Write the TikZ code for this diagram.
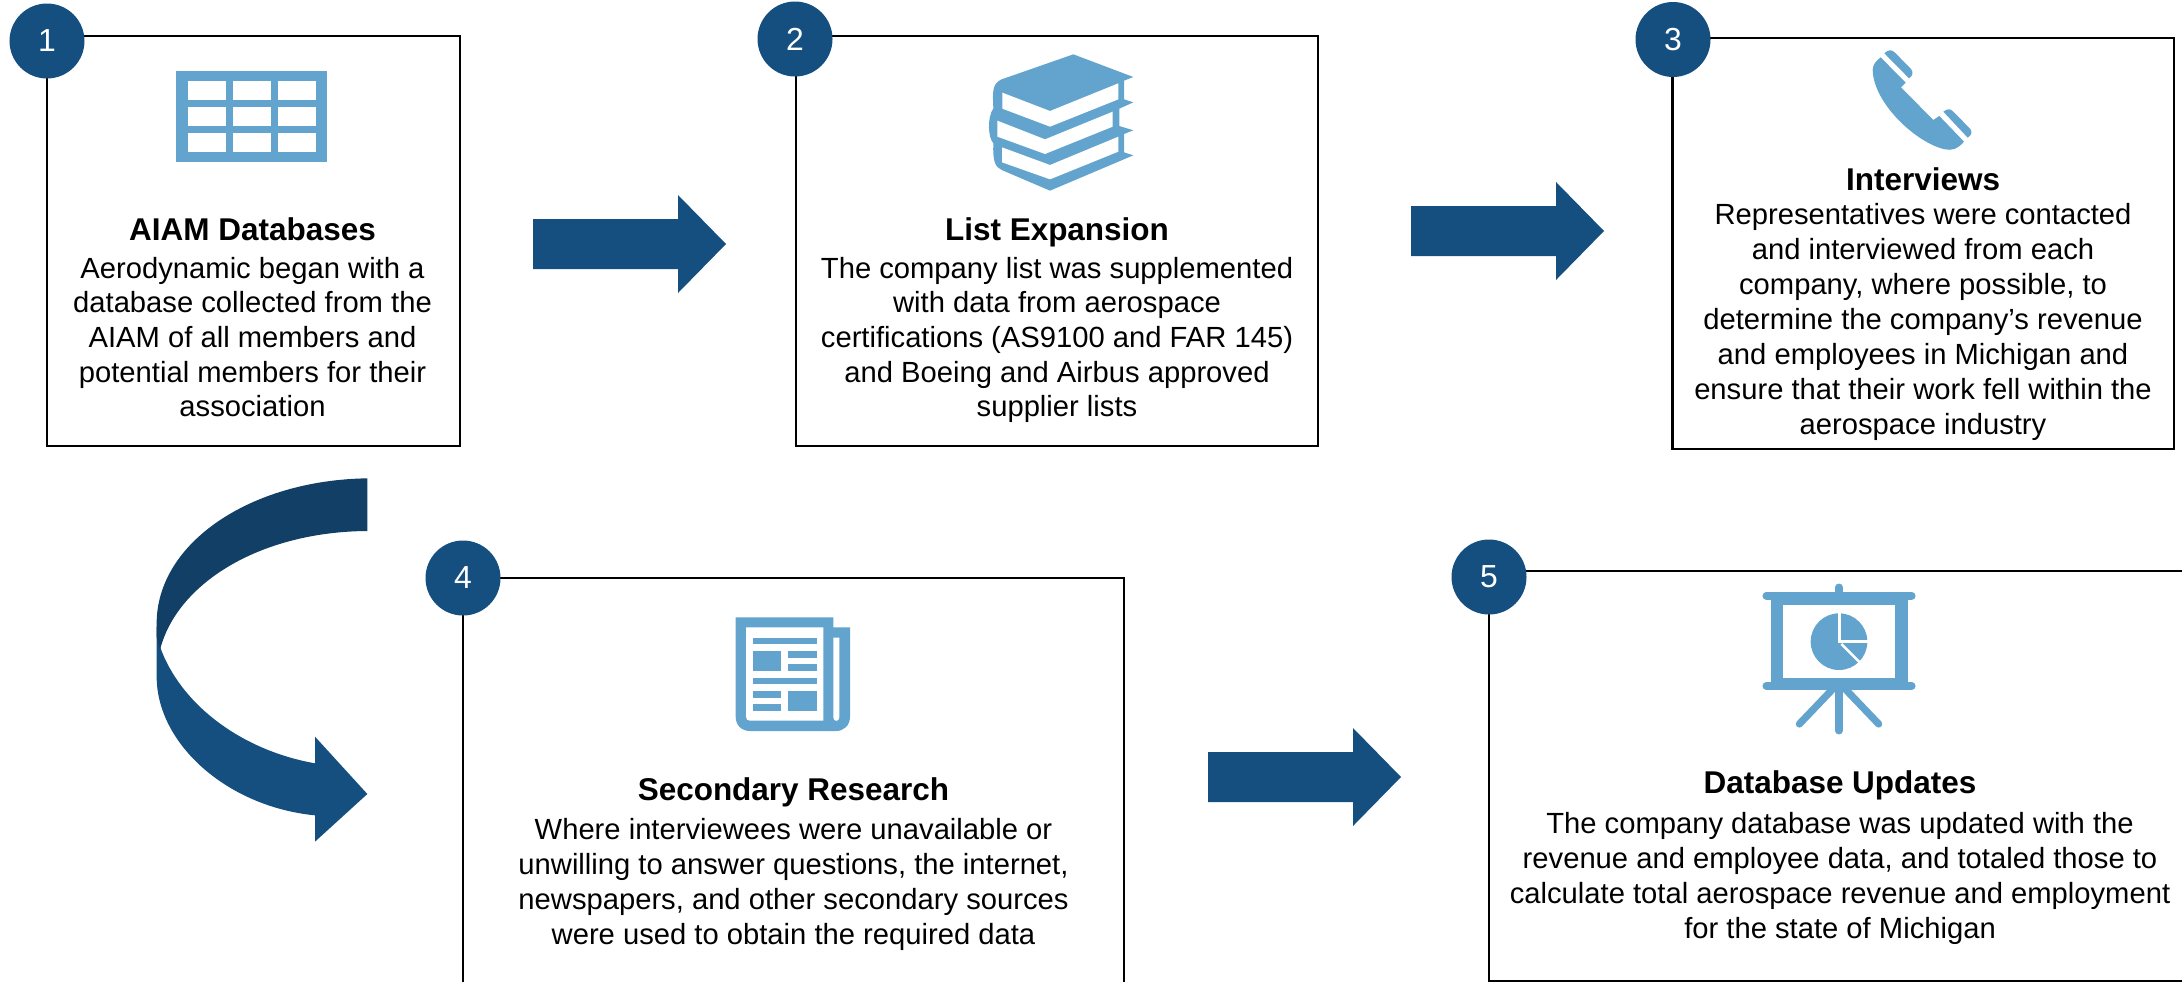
\documentclass[tikz,border=0pt]{standalone}
\usepackage{fontspec}
\setmainfont{Liberation Sans}
\definecolor{navy}{HTML}{154F7F}
\definecolor{navydark}{HTML}{123F65}
\definecolor{iconblue}{HTML}{62A4CD}
\newcommand{\blockarrow}[3]{% x, y centre, fill
  \fill[navy] (#1,#2-25) -- ++(145,0) -- ++(0,-24) -- ++(48,49) -- ++(-48,49) -- ++(0,-24) -- ++(-145,0) -- cycle;}
\newcommand{\digit}[1]{\raisebox{-2.5bp}{#1}}
\tikzset{
  boxline/.style={draw=black,line width=2.8pt,line join=miter},
  badge/.style={circle,fill=navy,minimum size=75bp,inner sep=0pt,text=white,font=\fontsize{32}{38}\selectfont},
  ttl/.style={anchor=base,inner sep=0pt,font=\fontsize{31.6}{38}\selectfont\bfseries},
  body/.style={anchor=north,inner sep=0pt,align=center,font=\fontsize{29.3}{35.1}\selectfont},
  bodyb/.style={body,font=\fontsize{29.3}{34.7}\selectfont},
  ic/.style={fill=iconblue,draw=none},
  wh/.style={fill=white,draw=none},
}
\begin{document}
\begin{tikzpicture}[x=1bp,y=-1bp]
\useasboundingbox (0,0) rectangle (2182,981);
% ---- boxes
\draw[boxline] (47,36) rectangle (460,446);
\draw[boxline] (796,36) rectangle (1318,446);
\draw[boxline] (1672.5,38) rectangle (2174,449);
\draw[boxline] (463,983) -- (463,578) -- (1124,578) -- (1124,983);
\draw[boxline] (2182,571) -- (1489,571) -- (1489,981) -- (2182,981);
% ---- badges
\node[badge] (b1) at (47,41) {\digit{1}};
\node[badge] (b2) at (795,39) {\digit{2}};
\node[badge] (b3) at (1673,39.5) {\digit{3}};
\node[badge] (b4) at (463,578) {\digit{4}};
\node[badge] (b5) at (1489,577) {\digit{5}};
% ---- straight arrows
\blockarrow{533}{244}{}
\blockarrow{1411}{231}{}
\blockarrow{1208}{777}{}
% ---- curved arrow
\begin{scope}[shift={(130,460)},scale=1/3]
\fill[navy] (90,560) .. controls (150,730) and (330,870) .. (555,910) -- (555,830) -- (712,1002) -- (555,1145) -- (555,1066)
   .. controls (290,1040) and (80,850) .. (80,650) -- (80,500) -- cycle;
\fill[navydark] (712,55) .. controls (360,60) and (80,250) .. (80,490) -- (80,530) -- (90,570)
   .. controls (140,370) and (390,215) .. (712,213) -- cycle;
\end{scope}
% ---- table icon
\fill[ic] (176,71) rectangle (327,162);
\foreach \cx in {188,233,278}\foreach \cy in {81,107,133}
  \fill[wh] (\cx,\cy) rectangle ++(38,19);
% ---- books icon
\begin{scope}[shift={(940,30)},scale=1/3]
\fill[ic] (400,73) -- (580,141) -- (552,152) -- (552,208) -- (580,217) -- (538,236) -- (538,288) -- (580,301) -- (552,312) -- (552,367) -- (580,376) -- (330,482) -- (185,420)
  .. controls (165,410) and (158,395) .. (160,340) .. controls (145,325) and (140,265) .. (160,235) .. controls (158,190) and (155,160) .. (185,148) -- cycle;
\fill[wh] (187,188) -- (330,243) -- (535,160) -- (535,208) -- (330,290) -- (187,236) -- cycle;
\fill[wh] (172,272) -- (315,328) -- (518,245) -- (518,290) -- (315,372) -- (172,320) -- cycle;
\fill[wh] (186,352) -- (330,405) -- (535,320) -- (535,365) -- (330,448) -- (186,397) -- cycle;
\end{scope}
% ---- phone icon
\begin{scope}[shift={(1840,30)},scale=1/3]
\fill[ic] (122,82) -- (197,158) -- (183,172) -- (280,270) -- (298,258) -- (372,335)
  .. controls (352,358) and (335,362) .. (315,358) .. controls (230,340) and (100,220) .. (98,120) .. controls (98,105) and (108,92) .. (122,82) -- cycle;
\fill[ic] (133,70) .. controls (145,58) and (155,58) .. (165,68) -- (213,117) .. controls (222,128) and (217,138) .. (207,145) -- cycle;
\fill[ic] (310,245) .. controls (322,235) and (332,236) .. (340,245) -- (390,296) .. controls (399,306) and (394,316) .. (383,323) -- cycle;
\end{scope}
% ---- newspaper icon
\begin{scope}[shift={(700,600)},scale=1/3]
\fill[ic] (107,52) -- (400,52) -- (400,82) -- (450,82) -- (450,350) .. controls (450,376) and (432,393) .. (408,393) -- (150,393) .. controls (125,393) and (107,376) .. (107,350) -- cycle;
\fill[wh] (138,82) -- (370,82) -- (370,362) -- (150,362) .. controls (142,362) and (138,358) .. (138,350) -- cycle;
\fill[wh] (400,113) -- (418,113) -- (418,352) .. controls (418,366) and (400,366) .. (400,352) -- cycle;
\fill[ic] (158,113) rectangle (350,133);
\fill[ic] (158,152) rectangle (243,213);
\fill[ic] (263,152) rectangle (350,173);
\fill[ic] (263,193) rectangle (350,213);
\fill[ic] (158,233) rectangle (350,253);
\fill[ic] (158,273) rectangle (243,293);
\fill[ic] (158,313) rectangle (243,333);
\fill[ic] (263,273) rectangle (350,333);
\end{scope}
% ---- presentation icon
\begin{scope}[shift={(1740,570)},scale=1/3]
\draw[iconblue,line width=7.8pt,line cap=round] (79,77) -- (515,77);
\draw[iconblue,line width=7.8pt,line cap=round] (79,348) -- (515,348);
\draw[iconblue,line width=7.6pt,line cap=round] (297,52) -- (297,77);
\draw[iconblue,line width=7.6pt,line cap=round] (297,348) -- (297,482);
\draw[iconblue,line width=7.2pt,line cap=round] (285,350) -- (178,462);
\draw[iconblue,line width=7.2pt,line cap=round] (309,350) -- (416,462);
\fill[ic] (92,80) rectangle (503,340);
\fill[wh] (128,106) rectangle (466,325);
\fill[ic] (297,215) circle[radius=85];
\draw[white,line width=2.6pt] (298,125) -- (298,215) -- (385,215);
\draw[white,line width=2.6pt] (304,222) -- (365,283);
\end{scope}
% ---- texts
\node[ttl] (t1) at (252.5,240.5) {AIAM Databases};
\node[bodyb] (d1) at (252.5,254) {\strut Aerodynamic began with a\\database collected from the\\AIAM of all members and\\potential members for their\\association};
\node[ttl] (t2) at (1057,240.5) {List Expansion};
\node[bodyb] (d2) at (1057,254) {\strut The company list was supplemented\\with data from aerospace\\certifications (AS9100 and FAR 145)\\and Boeing and Airbus approved\\supplier lists};
\node[ttl] (t3) at (1923,190) {Interviews};
\node[body] (d3) at (1923,199.5) {\strut Representatives were contacted\\and interviewed from each\\company, where possible, to\\determine the company’s revenue\\and employees in Michigan and\\ensure that their work fell within the\\aerospace industry};
\node[ttl] (t4) at (793.5,800.5) {Secondary Research};
\node[body] (d4) at (793.5,814.5) {\strut Where interviewees were unavailable or\\unwilling to answer questions, the internet,\\newspapers, and other secondary sources\\were used to obtain the required data};
\node[ttl] (t5) at (1840,793.5) {Database Updates};
\node[body] (d5) at (1840,808.5) {\strut The company database was updated with the\\revenue and employee data, and totaled those to\\calculate total aerospace revenue and employment\\for the state of Michigan};
\end{tikzpicture}
\end{document}
